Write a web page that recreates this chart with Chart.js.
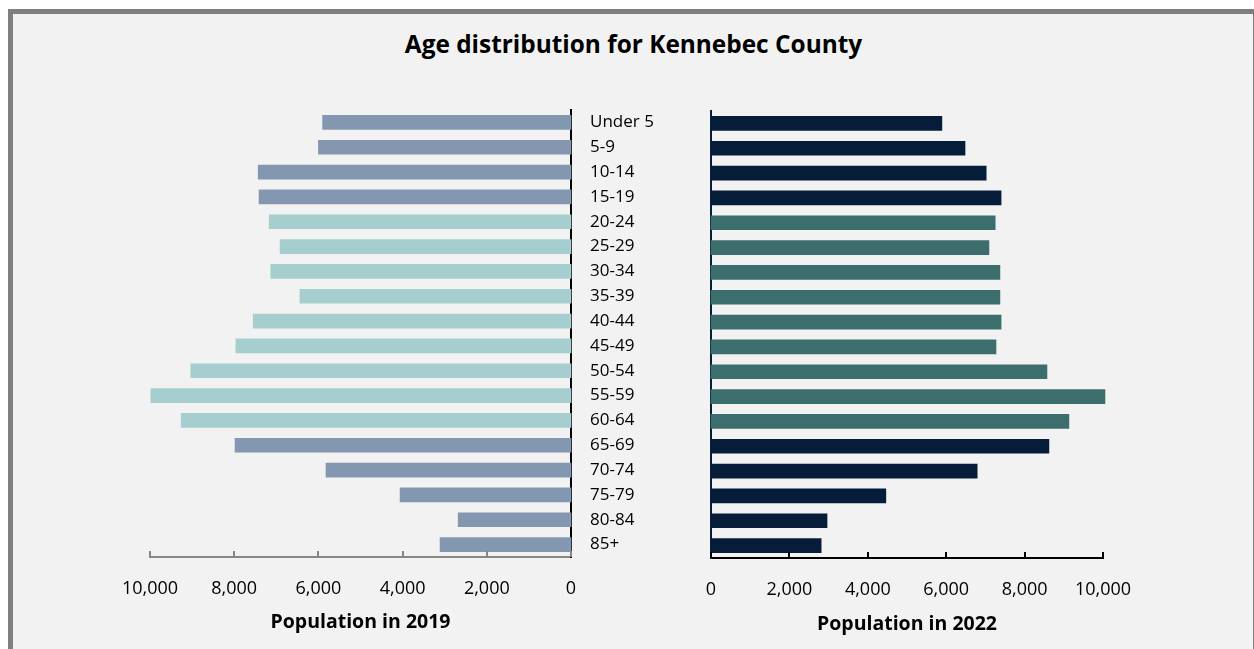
<!DOCTYPE html>
<html><head><meta charset="utf-8">
<script src="https://cdn.jsdelivr.net/npm/chart.js@4.4.1/dist/chart.umd.min.js"></script>
<style>
html,body{margin:0;padding:0;background:#fff;width:1254px;height:649px;overflow:hidden;}
#frame{position:absolute;left:8px;top:9px;width:1250px;height:700px;box-sizing:border-box;border:5px solid #7f7f7f;background:#f2f2f2;}
#title{position:absolute;left:12px;width:1243px;top:29px;line-height:30px;text-align:center;font-family:'Open Sans',sans-serif;font-weight:bold;font-size:24.4px;color:#000;}
canvas{position:absolute;left:0;top:0;}
</style></head><body>
<div id="frame"></div>
<div id="title">Age distribution for Kennebec County</div>
<canvas id="c1" width="1254" height="649"></canvas>
<canvas id="c2" width="1254" height="649"></canvas>
<script>
const categories = ['Under 5','5-9','10-14','15-19','20-24','25-29','30-34','35-39','40-44','45-49','50-54','55-59','60-64','65-69','70-74','75-79','80-84','85+'];
const pop2019 = [5900, 6000, 7430, 7410, 7170, 6910, 7130, 6440, 7550, 7960, 9030, 9980, 9260, 7980, 5820, 4060, 2680, 3110];
const pop2022 = [5890, 6480, 7020, 7400, 7250, 7090, 7370, 7370, 7400, 7270, 8570, 10050, 9130, 8620, 6790, 4460, 2960, 2810];
const xMin = 0, xMax = 10000, xStep = 2000;
const title2019 = 'Population in 2019';
const title2022 = 'Population in 2022';

Chart.defaults.font.family = "'Open Sans', sans-serif";
Chart.defaults.color = '#000';

const isMiddle = i => i >= 4 && i <= 12;
const fmt = v => Number(v).toLocaleString('en-US');

function inwardTicks(color) {
  return {
    id: 'inwardTicks',
    afterDraw(chart) {
      const s = chart.scales.x, ctx = chart.ctx;
      ctx.save();
      ctx.strokeStyle = color;
      ctx.lineWidth = 2;
      s.ticks.forEach(t => {
        const x = Math.round(s.getPixelForValue(t.value));
        ctx.beginPath();
        ctx.moveTo(x, s.top);
        ctx.lineTo(x, s.top - 6);
        ctx.stroke();
      });
      ctx.restore();
    }
  };
}

const X1H = 80, Y1W = 130;
new Chart(document.getElementById('c1'), {
  type: 'bar',
  data: {
    labels: categories,
    datasets: [{
      data: pop2019,
      backgroundColor: ctx => isMiddle(ctx.dataIndex) ? '#a7cece' : '#8497b0',
      barThickness: 14,
      borderWidth: 0,
      clip: 10
    }]
  },
  options: {
    indexAxis: 'y',
    responsive: false,
    animation: false,
    devicePixelRatio: 1,
    layout: { padding: { left: 150, right: 1254 - 571 - Y1W, top: 110, bottom: 649 - 557 - X1H } },
    plugins: { legend: { display: false }, tooltip: { enabled: false } },
    scales: {
      x: {
        reverse: true, min: xMin, max: xMax,
        ticks: { stepSize: xStep, callback: v => fmt(v), font: { size: 18 }, color: '#000', padding: 13, maxRotation: 0 },
        grid: { display: false },
        border: { display: true, color: '#868686', width: 2 },
        title: { display: true, text: title2019, font: { size: 19.5, weight: 'bold' }, color: '#000', padding: { top: 0, bottom: 3 } },
        afterFit: a => { a.height = X1H; }
      },
      y: {
        position: 'right',
        ticks: { font: { size: 17 }, color: '#000', padding: 11 },
        grid: { display: false },
        border: { display: true, color: '#000', width: 2 },
        afterFit: a => { a.width = Y1W; }
      }
    }
  },
  plugins: [inwardTicks('#868686')]
});

const X2H = 80;
new Chart(document.getElementById('c2'), {
  type: 'bar',
  data: {
    labels: categories,
    datasets: [{
      data: pop2022,
      backgroundColor: ctx => isMiddle(ctx.dataIndex) ? '#3d6e6e' : '#061d3a',
      barThickness: 14,
      borderWidth: 0,
      clip: 10
    }]
  },
  options: {
    indexAxis: 'y',
    responsive: false,
    animation: false,
    devicePixelRatio: 1,
    layout: { padding: { left: 711, right: 1254 - 1103, top: 111, bottom: 649 - 558 - X2H } },
    plugins: { legend: { display: false }, tooltip: { enabled: false } },
    scales: {
      x: {
        min: xMin, max: xMax,
        ticks: { stepSize: xStep, callback: v => fmt(v), font: { size: 18 }, color: '#000', padding: 13, maxRotation: 0 },
        grid: { display: false },
        border: { display: true, color: '#000', width: 2 },
        title: { display: true, text: title2022, font: { size: 19.5, weight: 'bold' }, color: '#000', padding: { top: 0, bottom: 2 } },
        afterFit: a => { a.height = X2H; }
      },
      y: {
        position: 'left',
        ticks: { display: false },
        grid: { display: false },
        border: { display: true, color: '#061d3a', width: 2 },
        afterFit: a => { a.width = 0; }
      }
    }
  },
  plugins: [inwardTicks('#000')]
});
</script>
</body></html>
